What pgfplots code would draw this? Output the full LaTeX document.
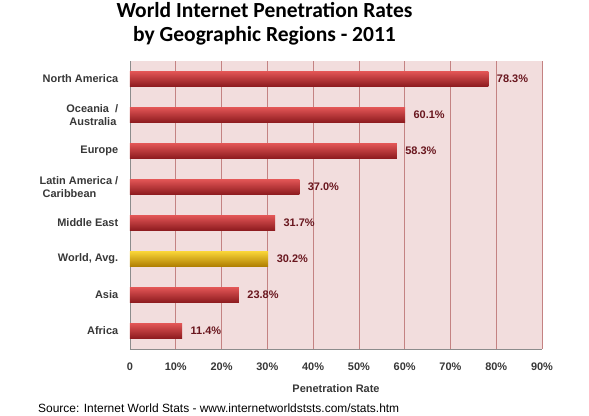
\documentclass[border=0pt]{standalone}
\usepackage{fontspec}
\setmainfont{Liberation Sans}
\newfontfamily\carlito{Carlito}
\usepackage{pgfplots}
\pgfplotsset{compat=1.18}
\definecolor{bgpink}{RGB}{242,221,221}
\definecolor{gridred}{RGB}{196,130,130}
\definecolor{axgray}{RGB}{140,140,140}
\definecolor{bartop}{RGB}{225,85,85}
\definecolor{barmid}{RGB}{200,50,52}
\definecolor{barbot}{RGB}{140,26,30}
\definecolor{goldtop}{RGB}{248,212,55}
\definecolor{goldmid}{RGB}{228,180,10}
\definecolor{goldbot}{RGB}{175,125,0}
\definecolor{lblred}{RGB}{105,22,30}
\definecolor{txtgray}{RGB}{55,55,55}
\pgfplotsset{redbar/.style={draw=none, shading=axis, top color=bartop, middle color=barmid, bottom color=barbot}}
\begin{document}
\begin{tikzpicture}[x=1bp,y=1bp]
\path[use as bounding box] (-130bp,-67bp) rectangle (459bp,349bp);
\begin{axis}[
  at={(0,0)}, anchor=south west,
  width=412bp, height=288bp, scale only axis,
  xbar, bar width=15bp, bar shift=0pt,
  xmin=0, xmax=90, ymin=-0.5, ymax=7.5,
  axis background/.style={fill=bgpink},
  axis x line*=bottom, axis y line*=left,
  axis line style={axgray},
  xtick={0,10,...,90},
  xticklabels={0,10\%,20\%,30\%,40\%,50\%,60\%,70\%,80\%,90\%},
  xmajorgrids, major grid style={gridred, line width=0.6bp},
  major x tick style={draw=none},
  ytick={0,...,7},
  yticklabels={Africa,Asia,{World, Avg.},Middle East,{Latin America /\\\ Caribbean},Europe,{Oceania \ /\\\ Australia},North America},
  major y tick style={draw=none},
  extra y ticks={-0.5,0.5,1.5,2.5,3.5,4.5,5.5,6.5,7.5},
  extra y tick labels={},
  extra y tick style={major tick length=5bp, tick pos=left, tick align=outside, major tick style={axgray}, grid=none},
  yticklabel style={font=\fontsize{11}{13}\selectfont\bfseries, text=txtgray, align=left, xshift=-4bp},
  xticklabel style={font=\fontsize{11}{13}\selectfont\bfseries, text=txtgray, yshift=-10bp},
  /pgf/number format/assume math mode=true,
  nodes near coords={\pgfmathprintnumber[fixed,fixed zerofill,precision=1]{\pgfplotspointmeta}\%},
  nodes near coords style={font=\fontsize{11}{13}\selectfont\bfseries, text=lblred, anchor=west, xshift=5bp},
  clip=false,
]
\addplot[redbar] coordinates {(11.4,0)};
\addplot[redbar] coordinates {(23.8,1)};
\addplot[draw=none, shading=axis, top color=goldtop, middle color=goldmid, bottom color=goldbot] coordinates {(30.2,2)};
\addplot[redbar] coordinates {(31.7,3)};
\addplot[redbar] coordinates {(37.0,4)};
\addplot[redbar] coordinates {(58.3,5)};
\addplot[redbar] coordinates {(60.1,6)};
\addplot[redbar] coordinates {(78.3,7)};
\end{axis}
\node[font=\carlito\fontsize{21.6}{25}\selectfont\bfseries, align=center, anchor=center] at (134.5bp,325.5bp)
  {World Internet Penetration Rates\\[-1bp]by Geographic Regions - 2011};
\node[font=\fontsize{11}{13}\selectfont\bfseries, text=txtgray] at (206bp,-40bp) {Penetration Rate};
\node[font=\fontsize{12}{14}\selectfont, anchor=west, inner sep=0pt] at (-92bp,-59bp) {Source: Internet World Stats - www.internetworldststs.com/stats.htm};
\end{tikzpicture}
\end{document}
